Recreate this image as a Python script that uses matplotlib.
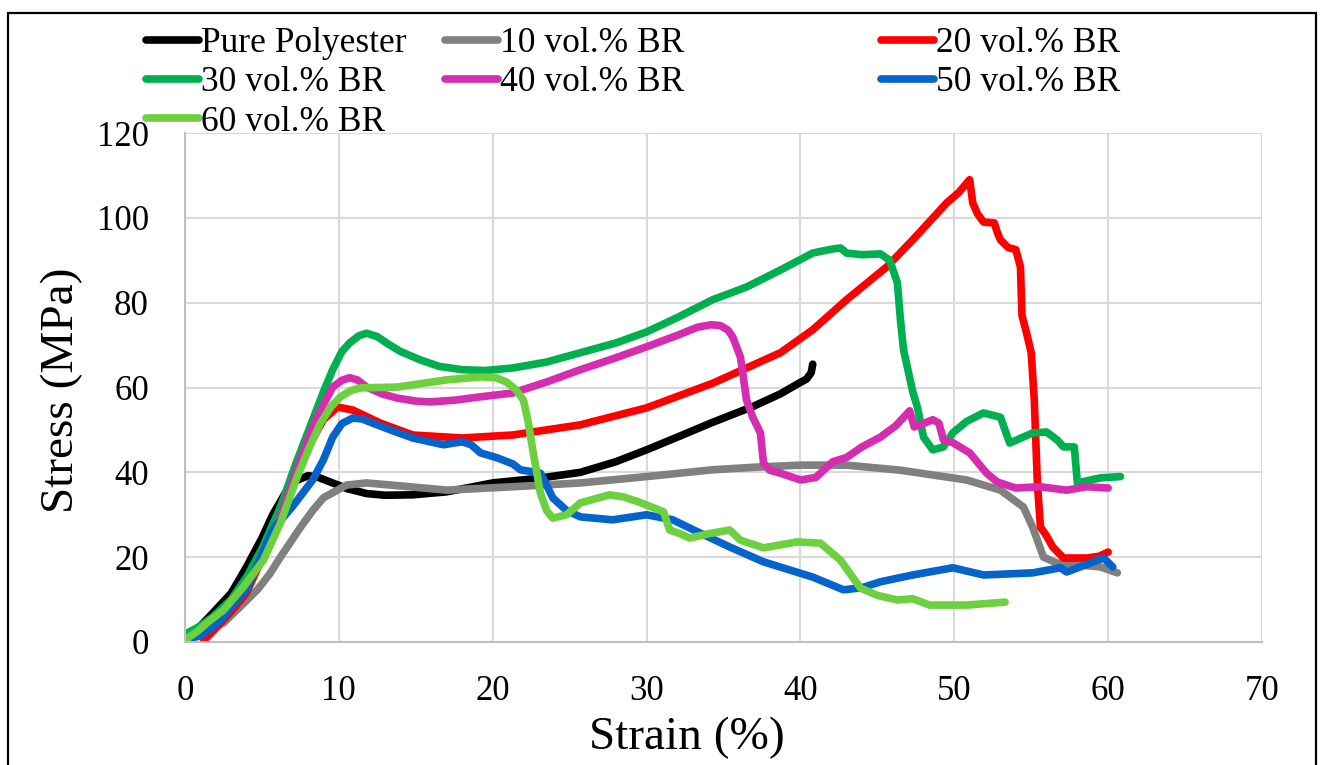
import numpy as np
import matplotlib.pyplot as plt
from matplotlib.patches import Rectangle

plt.rcParams['font.family'] = ['Liberation Serif', 'DejaVu Serif']

# ---- data (strain %, stress MPa) ----
pure_x = [0, 0.8, 1.8, 3, 4, 5, 5.7, 6.5, 7.2, 8, 8.6, 9.6, 10.5, 11.8, 13, 14.8, 17, 20,
          23, 25.7, 28, 30, 32, 34.3, 36.9, 38.7, 39.8, 40.4, 40.7, 40.8]
pure_y = [1, 3, 6.8, 11.5, 17.7, 24.5, 30, 35, 38, 39.2, 38.9, 37.5, 36.2, 35, 34.6, 34.7, 35.4, 37.5,
          38.6, 40, 42.5, 45.3, 48.3, 51.8, 55.5, 58.5, 60.8, 62, 63.5, 65.5]

br10_x = [0, 1, 2.5, 3.5, 4.7, 5.5, 6.2, 7.5, 8.3, 9, 10.5, 11.8, 14, 17, 21.3, 25.7, 30, 34.3,
          37, 40, 43, 46.5, 50.8, 53, 54.5, 55.1, 55.8, 56.7, 58, 59.5, 60.6]
br10_y = [1, 2, 4.5, 8, 12.3, 16, 20, 27, 31, 34, 37, 37.5, 36.8, 35.8, 36.6, 37.5, 39, 40.6,
          41.2, 41.7, 41.7, 40.5, 38.2, 35.8, 31.8, 27, 20, 18.6, 18.2, 17.7, 16.3]

br20_x = [1.2, 1.8, 2.5, 3.2, 4, 4.8, 5.7, 6.8, 7.9, 9, 9.9, 10.9, 12.7, 14.8, 18, 21.3, 25.7,
          30, 34.3, 38.7, 40.8, 43, 45.6, 47.3, 49.5, 50.3, 51, 51.2, 51.5, 51.9, 52.6, 52.8, 53,
          53.5, 54, 54.3, 54.4, 54.7, 55, 55.2, 55.4, 55.6, 56, 56.4, 57.1, 58.6, 59.4, 60]
br20_y = [0.3, 2.5, 5.2, 8, 11.6, 18, 25.7, 35, 45.3, 52.4, 55.4, 54.7, 51.6, 48.8, 48.1, 48.8, 51.2,
          55.2, 61, 68.2, 73.6, 80.7, 88.4, 94.8, 103.5, 106, 109, 103.5, 101, 99, 98.8, 96.5, 94.8,
          93, 92.5, 88.4, 77, 72.8, 68.2, 57, 37.5, 27.1, 25, 22.4, 19.8, 19.8, 20.2, 21.2]

br30_x = [0, 0.3, 1, 1.8, 3, 4, 5, 6.2, 7.2, 8.3, 9, 9.6, 10.2, 10.7, 11.3, 11.8, 12.5, 13.1, 14,
          15.3, 16.5, 18, 19.5, 21.3, 23.5, 25.7, 28, 30, 32, 34.3, 36.5, 38.7, 40.8, 42, 42.6, 43,
          44, 45.2, 45.8, 46.3, 46.5, 46.7, 47.3, 47.6, 48, 48.6, 49.3, 49.9, 50.8, 51.9, 53, 53.6,
          55.1, 56, 56.7, 57.1, 57.8, 58, 59.5, 60.8]
br30_y = [1.8, 2.4, 3.8, 5.9, 10, 15.3, 22, 31.8, 42, 52.4, 59, 64.2, 68.5, 70.5, 72.2, 72.8, 72,
          70.5, 68.5, 66.5, 65, 64.2, 64, 64.6, 66, 68.2, 70.5, 73.1, 76.5, 80.7, 83.7, 87.7, 91.7,
          92.6, 92.9, 91.7, 91.3, 91.5, 90, 84.7, 76, 68.9, 59, 55.4, 48.3, 45.3, 46, 49.3, 52, 54,
          53, 46.9, 49.3, 49.5, 47.6, 46, 46, 37.5, 38.7, 39]

br40_x = [0, 1, 2, 3, 4, 5, 6.2, 7.2, 8.3, 9, 9.6, 10.2, 10.7, 11.2, 11.8, 12.8, 13.8, 15, 15.9,
          17.5, 19.2, 21.3, 23.5, 25.7, 28, 30, 32, 33.3, 34.2, 34.8, 35.3, 35.6, 36.1, 36.5, 36.9,
          37.4, 37.6, 38, 38.7, 40, 41, 42.1, 43, 44, 45.2, 46.2, 47.1, 47.4, 48, 48.6, 49, 49.3,
          49.9, 51, 52.1, 52.8, 54, 55.6, 57.3, 58.6, 60]
br40_y = [1, 2, 4.5, 8.5, 13, 20, 29.5, 40, 50.7, 56, 60.1, 61.7, 62.3, 61.8, 60.1, 58.5, 57.5,
          56.8, 56.6, 57, 57.8, 58.7, 61.3, 64.2, 67, 69.6, 72.3, 74.2, 74.8, 74.6, 73.5, 71.9, 67.2,
          57, 53, 49.3, 42.2, 40.5, 39.8, 38.2, 38.8, 42.5, 43.5, 46, 48.3, 51, 54.5, 50.7, 51.5,
          52.4, 51.6, 47.6, 47, 44.6, 39.8, 37.7, 36.3, 36.6, 35.8, 36.6, 36.3]

br50_x = [0, 1, 1.8, 2.5, 3.2, 4, 4.8, 5.7, 7, 8.3, 9, 9.6, 10.2, 10.9, 11.5, 12.2, 13.5, 14.8,
          16.8, 18, 18.6, 19.2, 20.3, 21.3, 21.8, 23.1, 23.5, 23.9, 24.8, 25.7, 27.8, 30, 31.7,
          33.3, 35.4, 37.6, 40.8, 42.8, 44, 45.2, 47.3, 49.9, 51.9, 55.1, 56.9, 57.3, 59.7, 60.3]
br50_y = [0.5, 1.5, 3.5, 5.9, 9, 12.3, 19, 26.4, 32, 38.2, 43, 48.3, 51.5, 52.8, 52.6, 51.6, 49.8,
          48.1, 46.5, 47.2, 46.5, 44.6, 43.4, 42, 40.6, 39.8, 37, 34, 31, 29.5, 28.8, 30, 28.8,
          26, 22.4, 18.9, 15.3, 12.3, 12.8, 14.2, 15.8, 17.5, 15.8, 16.3, 17.5, 16.5, 19.8, 17.7]

br60_x = [0, 0.8, 1.6, 2.5, 3.8, 5.1, 6.2, 7.3, 8.1, 8.8, 9.5, 10.1, 10.8, 11.4, 12.5, 13.8, 15.5,
          17, 19.2, 20.2, 20.9, 21.5, 22, 22.3, 22.6, 23.1, 23.5, 23.9, 24.8, 25.7, 27.6, 28.5,
          29.5, 31.1, 31.5, 32.2, 32.8, 34, 35.4, 36.1, 37.6, 39.8, 41.3, 42.6, 43.9, 45, 46.3,
          47.3, 48.4, 50.8, 53.3]
br60_y = [0.5, 2.5, 5, 7.5, 13, 19.3, 28, 39, 46, 51.6, 55.5, 57.8, 59.3, 59.9, 60, 60.1, 61,
          61.8, 62.5, 62.3, 61.3, 59.5, 57, 52, 45.3, 35.1, 31, 29.2, 30, 32.8, 34.7, 34.2,
          33, 30.7, 26.4, 25.5, 24.5, 25.5, 26.4, 24, 22.2, 23.6, 23.3, 19.3, 12.7, 11, 9.9,
          10.2, 8.7, 8.7, 9.4]

labels = ['Pure Polyester', '10 vol.% BR', '20 vol.% BR', '30 vol.% BR',
          '40 vol.% BR', '50 vol.% BR', '60 vol.% BR']
colors = ['#000000', '#808080', '#ff0000', '#00b050', '#d52cb0', '#0563cc', '#6cd03f']
series = [(pure_x, pure_y), (br10_x, br10_y), (br20_x, br20_y), (br30_x, br30_y),
          (br40_x, br40_y), (br50_x, br50_y), (br60_x, br60_y)]

fig = plt.figure(figsize=(13.22, 7.65), dpi=100)
ax = fig.add_axes([185 / 1322, 123 / 765, 1077 / 1322, 509 / 765])

lines = []
for (x, y), c, lab in zip(series, colors, labels):
    ln, = ax.plot(x, y, color=c, lw=5.5, label=lab,
                  solid_capstyle='round', solid_joinstyle='round')
    lines.append(ln)

ax.set_xlim(0, 70)
ax.set_ylim(0, 120)
ax.set_xticks(np.arange(0, 71, 10))
ax.set_yticks(np.arange(0, 121, 20))
ax.grid(True, color='#d9d9d9', lw=1.5)
ax.set_axisbelow(True)
for s in ['top', 'right']:
    ax.spines[s].set_visible(False)
for s in ['left', 'bottom']:
    ax.spines[s].set_color('#bfbfbf')
    ax.spines[s].set_linewidth(1.5)
ax.tick_params(axis='x', length=0, pad=24, labelsize=25)
ax.tick_params(axis='y', length=0, pad=26, labelsize=25)

fig.text(687 / 1322, 1 - 738 / 765, 'Strain (%)', ha='center', va='center', fontsize=34)
fig.text(62 / 1322, 1 - 390 / 765, 'Stress (MPa)', ha='center', va='center',
         rotation=90, fontsize=34)

# legend: three column groups
groups = [([0, 3, 6], 146), ([1, 4], 445), ([2, 5], 881)]
for idx, xpx in groups:
    leg = fig.legend([lines[i] for i in idx], [labels[i] for i in idx],
                     loc='upper left', bbox_to_anchor=(xpx / 1322, 1 - 27 / 765),
                     frameon=False, fontsize=25.5, handlelength=1.5, handletextpad=0.05,
                     borderpad=0, borderaxespad=0, labelspacing=0.18)

# outer chart border
fig.add_artist(Rectangle((8 / 1322, -0.05), 1308 / 1322, 1.05 - 13 / 765,
                         transform=fig.transFigure, fill=False, ec='black', lw=1.6))

fig.savefig('out.png', dpi=100)
